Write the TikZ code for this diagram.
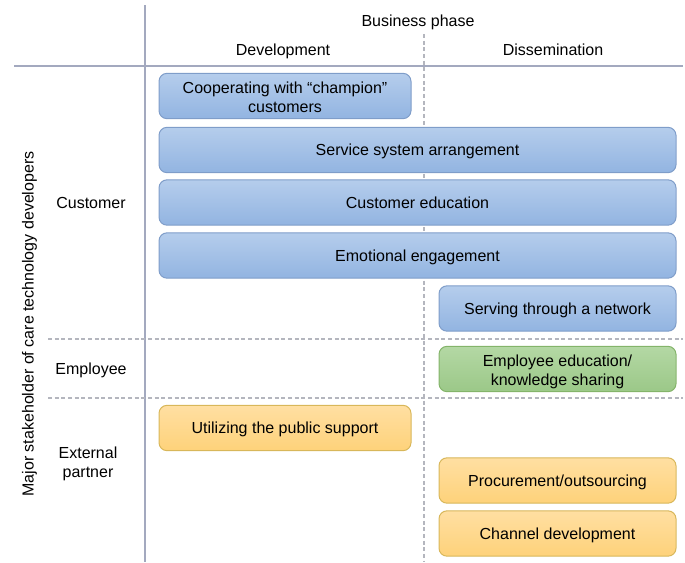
\documentclass[tikz,border=0pt]{standalone}
\usepackage{fontspec}
\setmainfont{Liberation Sans}
% line strut matching the font's ascent and descent
\newcommand{\cardstrut}{\rule[-2.54pt]{0pt}{13.4pt}}
% taller strut that lowers a two-line block within its box
\newcommand{\dropstrut}{\rule{0pt}{13.3pt}}
\begin{document}
\begin{tikzpicture}[x=0.75pt,y=-0.75pt,
  font=\fontsize{12}{14.25}\selectfont,
  every node/.append style={execute at begin node=\cardstrut},
  rule/.style={draw=ruleline,line width=0.8pt},
  divider/.style={draw=dashline,line width=0.8pt,dash pattern=on 3pt off 2pt},
  card/.style={rectangle,rounded corners=6pt,line width=0.75pt,align=center,
    inner sep=0pt,minimum height=34pt},
  bluecard/.style={card,draw=blueedge,top color=bluetop,bottom color=bluebot},
  greencard/.style={card,draw=greenedge,top color=greentop,bottom color=greenbot},
  orangecard/.style={card,draw=orangeedge,top color=orangetop,bottom color=orangebot},
  wide/.style={minimum width=387.75pt},
  half/.style={minimum width=189pt},
  right/.style={minimum width=177.75pt},
  label/.style={align=center,inner sep=0pt}]
\definecolor{ruleline}{HTML}{A3A9BF}
\definecolor{dashline}{HTML}{B4B6BE}
\definecolor{bluetop}{HTML}{B5CDEC}
\definecolor{bluebot}{HTML}{92B4E1}
\definecolor{blueedge}{HTML}{7F9DC9}
\definecolor{greentop}{HTML}{B4D8A4}
\definecolor{greenbot}{HTML}{9BC888}
\definecolor{greenedge}{HTML}{84B46A}
\definecolor{orangetop}{HTML}{FFDFA2}
\definecolor{orangebot}{HTML}{FED27A}
\definecolor{orangeedge}{HTML}{D8B75A}

\useasboundingbox (0,0) rectangle (685,562);

% table rules
\draw[rule] (145,5) -- (145,562);
\draw[rule] (14,66) -- (683,66);
\draw[divider] (424,34) -- (424,562);
\draw[divider] (48,339) -- (683,339);
\draw[divider] (48,398) -- (683,398);

% headers
\node[label] (phase) at (418,21) {Business phase};
\node[label] (dev) at (283,50) {Development};
\node[label] (diss) at (553,50) {Dissemination};

% row labels
\node[label,rotate=90] (stake) at (28,324) {Major stakeholder of care technology developers};
\node[label] (cust) at (91,203) {Customer};
\node[label] (empl) at (91,369) {Employee};
\node[label] (ext) at (88,461) {\dropstrut External\\\cardstrut partner};

% customer activities
\node[bluecard,half] (champ) at (285,96) {\dropstrut Cooperating with “champion”\\\cardstrut customers};
\node[bluecard,wide] (service) at (417.5,150) {Service system arrangement};
\node[bluecard,wide] (educ) at (417.5,202.5) {Customer education};
\node[bluecard,wide] (emot) at (417.5,255.5) {Emotional engagement};
\node[bluecard,right] (network) at (557.5,308.5) {Serving through a network};

% employee activities
\node[greencard,right] (knowledge) at (557.5,369) {\dropstrut Employee education/\\\cardstrut knowledge sharing};

% external partner activities
\node[orangecard,half] (public) at (285,428) {Utilizing the public support};
\node[orangecard,right] (procure) at (557.5,480.5) {Procurement/outsourcing};
\node[orangecard,right] (channel) at (557.5,533.5) {Channel development};
\end{tikzpicture}
\end{document}
